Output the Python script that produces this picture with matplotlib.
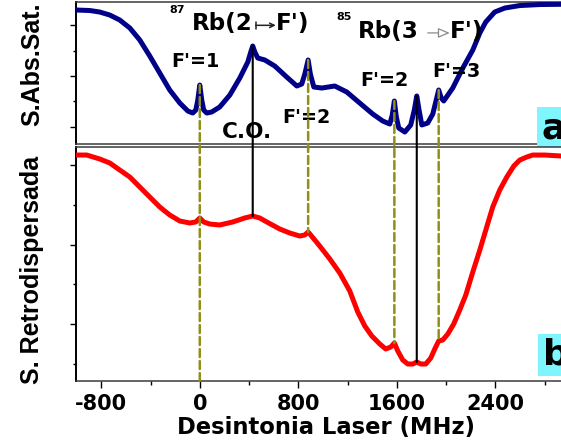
import numpy as np
import matplotlib
matplotlib.use("Agg")
import matplotlib.pyplot as plt
from matplotlib.patches import ConnectionPatch
from matplotlib.ticker import MultipleLocator, NullFormatter

plt.rcParams['font.family'] = ['DejaVu Sans']
plt.rcParams['font.weight'] = 'bold'
plt.rcParams['axes.unicode_minus'] = False

# Laser detuning (MHz) and saturated-absorption signal (arb. units)
sat_freq = [-1005, -893, -812, -731, -650, -568, -487, -406, -325, -244, -162,
            -97, -57, -32, -16, 0, 16, 32, 57, 97, 162, 244, 325, 390, 414,
            430, 447, 471, 528, 609, 706, 788, 828, 853, 880, 898, 926, 991,
            1096, 1194, 1299, 1405, 1486, 1543, 1563, 1580, 1596, 1616, 1665,
            1713, 1742, 1762, 1782, 1803, 1851, 1892, 1916, 1940, 1961, 1981,
            2054, 2136, 2217, 2274, 2322, 2395, 2477, 2598, 2761, 2931, 3248,
            3500]
sat_signal = [2.302, 2.292, 2.262, 2.203, 2.105, 1.947, 1.710, 1.394, 1.059,
              0.724, 0.467, 0.310, 0.270, 0.329, 0.527, 0.822, 0.527, 0.329,
              0.270, 0.290, 0.389, 0.625, 0.961, 1.276, 1.473, 1.592, 1.473,
              1.355, 1.316, 1.197, 0.980, 0.803, 0.842, 1.039, 1.316, 1.039,
              0.783, 0.763, 0.803, 0.684, 0.467, 0.250, 0.112, 0.053, 0.231,
              0.507, 0.191, -0.026, -0.105, 0.034, 0.329, 0.606, 0.310, 0.034,
              0.073, 0.250, 0.487, 0.724, 0.566, 0.507, 0.763, 1.158, 1.513,
              1.848, 2.065, 2.262, 2.341, 2.390, 2.410, 2.415, 2.415, 2.415]

# Backscattered (retro-reflected) signal (arb. units)
retro_freq = [-1005, -918, -812, -731, -650, -568, -487, -406, -325, -244,
              -162, -81, -32, 0, 32, 81, 162, 268, 365, 430, 487, 544, 650,
              731, 812, 853, 880, 934, 974, 1056, 1137, 1218, 1283, 1340, 1397,
              1462, 1510, 1551, 1580, 1608, 1648, 1689, 1730, 1762, 1795, 1835,
              1876, 1908, 1940, 1973, 2014, 2062, 2111, 2160, 2217, 2274, 2330,
              2379, 2436, 2493, 2550, 2598, 2655, 2704, 2801, 2931, 3500]
retro_signal = [2.128, 2.128, 2.078, 2.028, 1.940, 1.851, 1.725, 1.599, 1.474,
                1.373, 1.297, 1.272, 1.285, 1.335, 1.285, 1.259, 1.247, 1.285,
                1.335, 1.360, 1.335, 1.285, 1.196, 1.146, 1.108, 1.121, 1.159,
                1.058, 0.982, 0.819, 0.642, 0.416, 0.151, -0.025, -0.151,
                -0.252, -0.315, -0.290, -0.239, -0.340, -0.453, -0.504, -0.504,
                -0.479, -0.504, -0.504, -0.428, -0.315, -0.214, -0.202, -0.126,
                0.000, 0.176, 0.365, 0.655, 0.932, 1.222, 1.474, 1.688, 1.851,
                1.990, 2.065, 2.103, 2.128, 2.128, 2.116, 2.116]

# Hyperfine transitions (dashed) and crossover resonances (solid)
transitions = [0, 880, 1580, 1940]
crossovers = [430, 1762]

x_ticks = [-800, 0, 800, 1600, 2400]
x_limits = (-1005, 3500)

fig = plt.figure(figsize=(5.61, 4.48), dpi=100)
W, H = 561.0, 448.0
left = 76 / W
width = (x_limits[1] - x_limits[0]) / 8.12 / W
ax1 = fig.add_axes([left, 1 - 144.3 / H, width, (144.3 - 2) / H])
ax2 = fig.add_axes([left, 1 - 381 / H, width, (381 - 146.7) / H])

spine_col = '#3a3a3a'
for ax in (ax1, ax2):
    ax.set_xlim(*x_limits)
    for s in ax.spines.values():
        s.set_linewidth(1.1)
        s.set_color(spine_col)
    ax.spines['left'].set_color('black')
    ax.spines['left'].set_linewidth(1.4)
    ax.spines['right'].set_visible(False)
    ax.yaxis.set_major_locator(MultipleLocator(1))
    ax.yaxis.set_minor_locator(MultipleLocator(0.5))
    ax.yaxis.set_major_formatter(NullFormatter())
    ax.tick_params(axis='y', which='major', direction='out', length=4.5, width=1.0)
    ax.tick_params(axis='y', which='minor', direction='out', length=2.5, width=1.0)

ax1.set_ylim(-0.347, 2.46)
ax2.set_ylim(-0.718, 2.233)
ax1.tick_params(axis='x', which='both', bottom=False, labelbottom=False)

ax2.set_xticks(x_ticks)
ax2.set_xticklabels([str(t) for t in x_ticks])
ax2.xaxis.set_minor_locator(MultipleLocator(400))
ax2.tick_params(axis='x', which='major', direction='out', length=5, width=1.0,
                labelsize=15, pad=4)
ax2.tick_params(axis='x', which='minor', direction='out', length=3, width=1.0)
ax2.set_xlabel('Desintonia Laser (MHz)', fontsize=16.3, fontweight='bold',
               labelpad=2, x=0.451, ha='center')

ax1.plot(sat_freq, sat_signal, color='#000088', lw=3.6, solid_joinstyle='round',
         solid_capstyle='round', zorder=3)
ax2.plot(retro_freq, retro_signal, color='#ff0000', lw=3.6,
         solid_joinstyle='round', solid_capstyle='round', zorder=3)

# Guide lines linking each resonance in both spectra
olive = '#8f8f1a'
for i, f in enumerate(transitions):
    y_top = np.interp(f, sat_freq, sat_signal)
    if i == 0:
        y_bot = ax2.get_ylim()[0]
    else:
        y_bot = np.interp(f, retro_freq, retro_signal)
    con = ConnectionPatch(xyA=(f, y_top), coordsA=ax1.transData,
                          xyB=(f, y_bot), coordsB=ax2.transData,
                          color=olive, lw=1.8, linestyle=(0, (3.2, 1.6)),
                          zorder=5)
    fig.add_artist(con)

for f in crossovers:
    y_top = np.interp(f, sat_freq, sat_signal)
    y_bot = np.interp(f, retro_freq, retro_signal)
    con = ConnectionPatch(xyA=(f, y_top), coordsA=ax1.transData,
                          xyB=(f, y_bot), coordsB=ax2.transData,
                          color='black', lw=1.5, zorder=5)
    fig.add_artist(con)

# Isotope labels
tkw = dict(fontweight='bold', color='black', clip_on=False)
ax1.text(-244, 2.243, '87', fontsize=8, ha='left', va='baseline', **tkw)
ax1.text(-65, 1.907, 'Rb(2', fontsize=16.6, ha='left', va='baseline', **tkw)
ax1.annotate('', xy=(617, 2.0), xytext=(455, 2.0), xycoords='data',
             arrowprops=dict(arrowstyle=']->,widthA=0.3,lengthA=0',
                             mutation_scale=8, color='#222222', lw=1.1,
                             shrinkA=0, shrinkB=0))
ax1.text(617, 1.907, "F')", fontsize=16.6, ha='left', va='baseline', **tkw)

ax1.text(1112, 2.105, '85', fontsize=8, ha='left', va='baseline', **tkw)
ax1.text(1283, 1.750, 'Rb(3', fontsize=16.6, ha='left', va='baseline', **tkw)
ax1.annotate('', xy=(2030, 1.85), xytext=(1851, 1.85), xycoords='data',
             arrowprops=dict(arrowstyle='-|>,head_length=0.7,head_width=0.3',
                             mutation_scale=10, fc='white', ec='#8a8a8a',
                             lw=0.9, shrinkA=0, shrinkB=0))
ax1.text(2030, 1.750, "F')", fontsize=16.6, ha='left', va='baseline', **tkw)

# Hyperfine level labels
ax1.text(-32, 1.178, "F'=1", fontsize=13.8, ha='center', va='baseline', **tkw)
ax1.text(179, -0.223, 'C.O.', fontsize=15.5, ha='left', va='baseline', **tkw)
ax1.text(869, 0.073, "F'=2", fontsize=13.8, ha='center', va='baseline', **tkw)
ax1.text(1502, 0.803, "F'=2", fontsize=13.8, ha='center', va='baseline', **tkw)
ax1.text(2087, 0.98, "F'=3", fontsize=13.8, ha='center', va='baseline', **tkw)

# Panel tags
box = dict(boxstyle='square,pad=0.12', fc='#7ff6ff', ec='none')
ax1.text(2777, -0.223, 'a', fontsize=26, ha='left', va='baseline', bbox=box,
         zorder=6, **tkw)
ax2.text(2785, -0.516, 'b', fontsize=26, ha='left', va='baseline', bbox=box,
         zorder=6, **tkw)

# Axis titles
fig.text(32 / W, 1 - 64 / H, 'S.Abs.Sat.', rotation=90, fontsize=18,
         fontfamily='Liberation Sans', fontweight='bold',
         ha='center', va='center')
fig.text(32 / W, 1 - 270 / H, 'S. Retrodispersada', rotation=90, fontsize=18,
         fontfamily='Liberation Sans', fontweight='bold',
         ha='center', va='center')

fig.savefig('out.png', dpi=100)
